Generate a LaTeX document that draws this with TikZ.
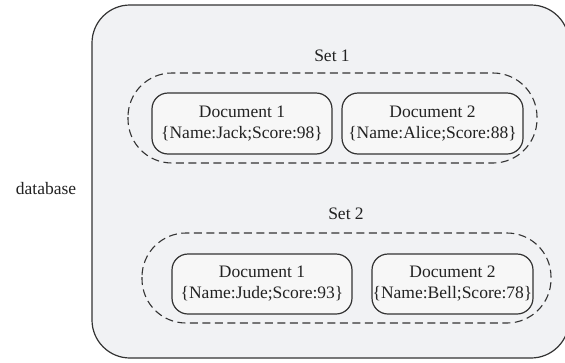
\documentclass[tikz,border=0pt]{standalone}
\usepackage{fontspec}
\setmainfont{Liberation Serif}
\begin{document}
\begin{tikzpicture}[x=1pt,y=-1pt,
  outerbox/.style={draw=linec,line width=1.2pt,fill=outerfill,rounded corners=38pt},
  setbox/.style={draw=linec,line width=1.1pt,dash pattern=on 8pt off 4.5pt,rounded corners=44pt},
  docbox/.style={draw=linec,line width=1.2pt,fill=docfill,rounded corners=16pt},
  lbl/.style={font=\fontsize{17.5}{21}\selectfont,align=center,inner sep=0pt,text=textc}]
\definecolor{outerfill}{HTML}{F1F2F4}
\definecolor{docfill}{HTML}{F7F7F7}
\definecolor{linec}{HTML}{333333}
\definecolor{textc}{HTML}{222222}
\useasboundingbox (0,0) rectangle (565,362);
\begin{scope}
\clip (0,0) rectangle (565,362);
\draw[outerbox] (92,5) rectangle (569,358);
\end{scope}
\node[lbl] (db) at (46,189) {database};
\node[lbl] (s1) at (332,56) {Set 1};
\draw[setbox] (128,73) rectangle (537,163);
\draw[docbox] (152,93) rectangle (332,154);
\node[lbl] (d11) at (242,123.5) {Document 1\\\{Name:Jack;Score:98\}};
\draw[docbox] (342,93) rectangle (523,154);
\node[lbl] (d12) at (432.5,123.5) {Document 2\\\{Name:Alice;Score:88\}};
\node[lbl] (s2) at (346,214) {Set 2};
\draw[setbox] (142,233) rectangle (551,323);
\draw[docbox] (172,254) rectangle (352,314);
\node[lbl] (d21) at (262,284) {Document 1\\\{Name:Jude;Score:93\}};
\draw[docbox] (372,254) rectangle (533,314);
\node[lbl] (d22) at (452.5,284) {Document 2\\\{Name:Bell;Score:78\}};
\end{tikzpicture}
\end{document}
